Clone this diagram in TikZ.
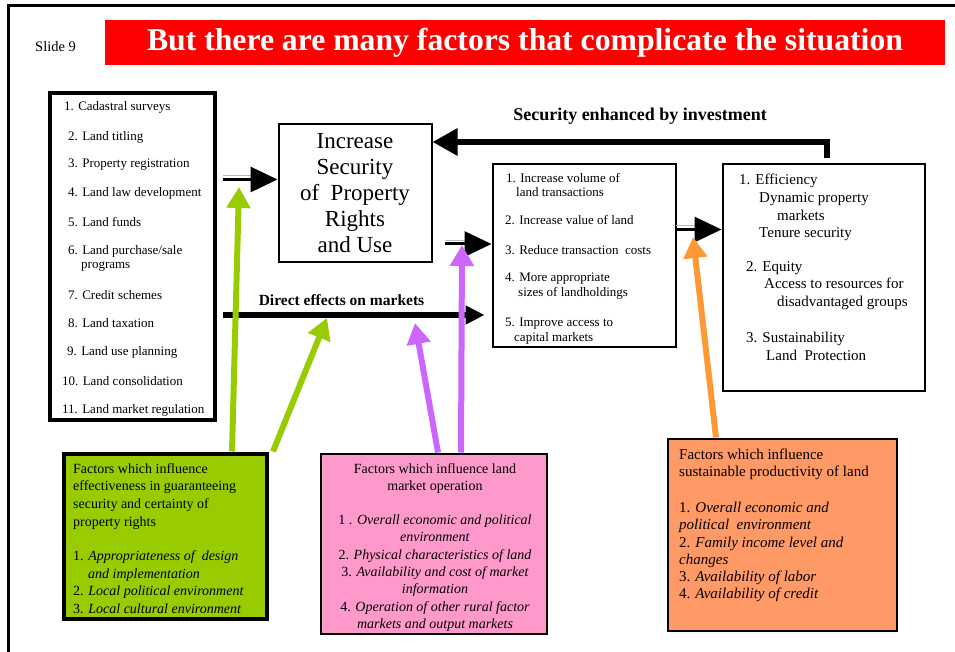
\documentclass[tikz,border=0pt]{standalone}
\usepackage{fontspec}
\setmainfont{Liberation Serif}
\usetikzlibrary{arrows.meta}

\definecolor{banner}{HTML}{FF0000}
\definecolor{leaf}{HTML}{99CC00}
\definecolor{rose}{HTML}{FF99CC}
\definecolor{peach}{HTML}{FF9966}
\definecolor{lilac}{HTML}{CC66FF}
\definecolor{amber}{HTML}{FF9933}

\begin{document}
\begin{tikzpicture}[x=1pt,y=-1pt,
        box/.style={draw=black,line width=2pt,inner sep=0pt},
        txt/.style={anchor=north west,inner sep=0pt,align=left},
        small/.style={font=\fontsize{13}{14.5}\selectfont},
        medium/.style={font=\fontsize{15}{17.7}\selectfont},
        big/.style={line width=6pt,-{Triangle[length=25pt,width=26pt]}},
        dbl/.style={line width=3pt,-{Triangle[length=27pt,width=25pt]},
            preaction={draw=gray!55,line width=1pt,-,shorten >=27pt,
                transform canvas={yshift=3.5pt}}},
        pointer/.style={line width=6pt,-{Triangle[length=21pt,width=23pt]}}]
    \useasboundingbox (0,0) rectangle (955,652);
    \draw[line width=3pt] (8,652) -- (8,5.5) -- (955,5.5);

    \node[anchor=west,inner sep=0pt,font=\fontsize{14.5}{14.5}\selectfont] (slide) at (35,47) {Slide 9};
    \node[fill=banner,minimum width=840pt,minimum height=45pt,inner sep=0pt,text=white,
          font=\bfseries\fontsize{31.7}{31.7}\selectfont] (title) at (525,42.5)
          {But there are many factors that complicate the situation};

    % list of interventions
    \node[box,line width=4pt,minimum width=165pt,minimum height=327pt] (list) at (132.5,256.5) {};
    \node[txt,small] (l1)  at (64,101) {1. Cadastral surveys};
    \node[txt,small] (l2)  at (68,131) {2. Land titling};
    \node[txt,small] (l3)  at (68,159) {3. Property registration};
    \node[txt,small] (l4)  at (68,187) {4. Land law development};
    \node[txt,small] (l5)  at (68,217) {5. Land funds};
    \node[txt,small] (l6)  at (68,245) {6. Land purchase/sale\\\hspace*{13pt}programs};
    \node[txt,small] (l7)  at (68,290) {7. Credit schemes};
    \node[txt,small] (l8)  at (68,318) {8. Land taxation};
    \node[txt,small] (l9)  at (67,346) {9. Land use planning};
    \node[txt,small] (l10) at (62,376) {10. Land consolidation};
    \node[txt,small] (l11) at (62,404) {11. Land market regulation};

    \node[box,minimum width=153pt,minimum height=138pt,align=center,
          font=\fontsize{23}{26}\selectfont] (sec) at (355,193)
          {Increase\\Security\\of~~Property\\Rights\\and Use};

    % market effects
    \node[box,minimum width=183pt,minimum height=182pt] (mid) at (584,255.5) {};
    \node[txt,small] (m1) at (506,173) {1. Increase volume of\\\hspace*{10pt}land transactions};
    \node[txt,small] (m2) at (505,215) {2. Increase value of land};
    \node[txt,small] (m3) at (505,245) {3. Reduce transaction~~costs};
    \node[txt,small] (m4) at (505,273) {4. More appropriate\\\hspace*{13pt}sizes of landholdings};
    \node[txt,small] (m5) at (505,318) {5. Improve access to\\\hspace*{9pt}capital markets};

    % outcomes
    \node[box,minimum width=202pt,minimum height=226pt] (goal) at (823.5,277.5) {};
    \node[txt,medium] (r1) at (739,174) {1. Efficiency\\\hspace*{20pt}Dynamic property\\\hspace*{38pt}markets\\\hspace*{20pt}Tenure security};
    \node[txt,medium] (r2) at (746,261) {2. Equity\\\hspace*{18pt}Access to resources for\\\hspace*{31pt}disadvantaged groups};
    \node[txt,medium] (r3) at (746,332) {3. Sustainability\\\hspace*{20pt}Land~~Protection};

    % factor boxes
    \node[box,fill=leaf,line width=4pt,minimum width=203pt,minimum height=165pt] (green) at (165,536) {};
    \node[txt,font=\fontsize{14}{17.7}\selectfont] (gtext) at (73,463)
        {Factors which influence\\effectiveness in guaranteeing\\security and certainty of\\property rights\\[16.5pt]%
         1. \textit{Appropriateness of~~design}\\\hspace*{15pt}\textit{and implementation}\\%
         2. \textit{Local political environment}\\3. \textit{Local cultural environment}};

    \node[box,fill=rose,minimum width=226pt,minimum height=180pt] (pink) at (433.5,543.5) {};
    \node[anchor=north,inner sep=0pt,align=center,font=\fontsize{14}{17.3}\selectfont] (ptext) at (435,463)
        {Factors which influence land\\market operation\\[17pt]%
         1 . \textit{Overall economic and political}\\\textit{environment}\\%
         2. \textit{Physical characteristics of land}\\3. \textit{Availability and cost of market}\\%
         \textit{information}\\4. \textit{Operation of other rural factor}\\\textit{markets and output markets}};

    \node[box,fill=peach,minimum width=229pt,minimum height=192pt] (orange) at (782,534.5) {};
    \node[txt,font=\fontsize{15}{17.3}\selectfont] (otext) at (679,448.6)
        {Factors which influence\\sustainable productivity of land\\[18.5pt]%
         1. \textit{Overall economic and}\\\textit{political~~environment}\\%
         2. \textit{Family income level and}\\\textit{changes}\\%
         3. \textit{Availability of labor}\\4. \textit{Availability of credit}};

    % connectors
    \coordinate (invstart) at (827,158);
    \coordinate (dstart) at (223,315);
    \coordinate (d1) at (223,179.5);
    \coordinate (d2) at (445,244);
    \coordinate (d3) at (676,229.5);
    \node[anchor=base,inner sep=0pt,font=\bfseries\fontsize{18}{18}\selectfont] (invlabel) at (640,121) {Security enhanced by investment};
    \node[anchor=base,inner sep=0pt,font=\bfseries\fontsize{15.5}{15.5}\selectfont] (dlabel) at (341.5,305) {Direct effects on markets};

    \draw[big] (invstart) |- ([yshift=-19pt]sec.north east);
    \draw[line width=6pt,-{Triangle[length=19pt,width=18pt]},shorten >=7pt] (dstart) -- (dstart -| mid.west);
    \draw[dbl] (d1) -- (d1 -| sec.west);
    \draw[dbl] (d2) -- (d2 -| mid.west);
    \draw[dbl] (d3) -- (d3 -| goal.west);

    \coordinate (g1) at (239,187);
    \coordinate (g2) at (327,318);
    \coordinate (p1) at (415,323);
    \coordinate (p2) at (462,245);
    \coordinate (o1) at (693,237);
    \draw[pointer,leaf]  ([xshift=67pt]green.north) -- (g1);
    \draw[pointer,leaf]  ([xshift=108pt]green.north) -- (g2);
    \draw[pointer,lilac] ([xshift=4.5pt]pink.north) -- (p1);
    \draw[pointer,lilac] ([xshift=27.5pt]pink.north) -- (p2);
    \draw[pointer,amber] ([xshift=-66pt]orange.north) -- (o1);

\end{tikzpicture}
\end{document}
